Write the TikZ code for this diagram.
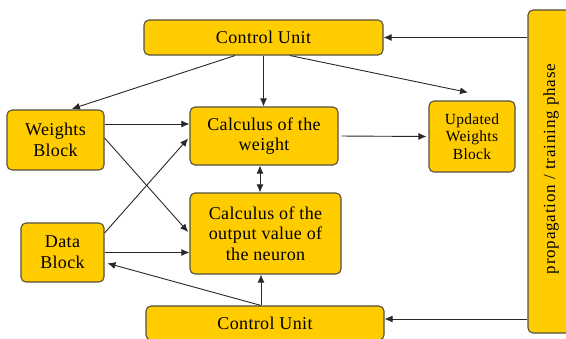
\documentclass[tikz,border=0pt]{standalone}
\usepackage{fontspec}
\setmainfont{Liberation Serif}
\usetikzlibrary{arrows.meta}
\definecolor{boxfill}{RGB}{255,204,0}
\definecolor{boxedge}{RGB}{85,80,60}
\definecolor{linec}{RGB}{40,40,40}
\tikzset{
  blk/.style={draw=boxedge, line width=1.1pt, fill=boxfill, rounded corners=5pt,
    align=center, inner sep=0pt, font=\rmfamily\fontsize{18}{20.7}\selectfont\addfontfeatures{LetterSpace=2}},
  arr/.style={draw=linec, line width=0.9pt, -{Latex[length=8pt,width=7pt]}},
  darr/.style={draw=linec, line width=0.9pt, {Latex[length=8pt,width=7pt]}-{Latex[length=8pt,width=7pt]}}
}
\begin{document}
\begin{tikzpicture}[x=1pt,y=-1pt]
\useasboundingbox (0,0) rectangle (566,338);
\clip (0,0) rectangle (566,338);
\fill[white] (0,0) rectangle (566,338);
% nodes
\node[blk, minimum width=239pt, minimum height=35pt] (topcu) at (263.5,37.5) {Control Unit};
\node[blk, minimum width=97pt, minimum height=60pt] (wb) at (55.5,140) {Weights\\Block};
\node[blk, minimum width=148pt, minimum height=58pt] (cw) at (264,136) {Calculus of the\\weight};
\node[blk, minimum width=86pt, minimum height=71pt, font=\rmfamily\fontsize{15.5}{17.5}\selectfont\addfontfeatures{LetterSpace=2}] (uwb) at (472,136.5) {Updated\\Weights\\Block};
\node[blk, minimum width=83pt, minimum height=59pt] (db) at (62.5,252.5) {Data\\Block};
\node[blk, minimum width=151pt, minimum height=81pt] (co) at (265.5,233.5) {Calculus of the\\output value of\\the neuron};
\node[blk, minimum width=238pt, minimum height=34pt] (botcu) at (265,323) {Control Unit};
\node[blk, minimum width=46pt, minimum height=323pt] (bar) at (551,171.5) {};
\node[rotate=90, font=\rmfamily\fontsize{17}{19}\selectfont\addfontfeatures{LetterSpace=5}] (bartext) at (551,169) {propagation / training phase};
% helper coordinates
\coordinate (be) at ([yshift=4pt]botcu.east);
\coordinate (a1) at ([yshift=16pt]wb.east);
\coordinate (c1) at ([xshift=-4pt]cw.south);
\coordinate (c2) at ([xshift=-4pt]botcu.north);
% connectors
\draw[arr] (bar.west |- topcu.east) -- (topcu.east);
\draw[arr] (bar.west |- be) -- (be);
\draw[arr, shorten >=2pt] ([xshift=-28.5pt]topcu.south) -- ([xshift=14.5pt]wb.north);
\draw[arr] (topcu.south) -- (topcu.south |- cw.north);
\draw[arr] ([xshift=26.5pt]topcu.south) -- ([xshift=-4pt,yshift=8pt]uwb.north);
\draw[arr] (a1) -- (a1 -| cw.west);
\draw[arr, shorten >=2pt] ([yshift=2pt]wb.east) -- (co.west);
\draw[arr, shorten >=2pt] ([yshift=19.5pt]db.east) -- ([yshift=-1pt]cw.west);
\draw[arr] (db.east) -- (db.east -| co.west);
\draw[darr] (c1) -- (c1 |- co.north);
\draw[arr] (c2) -- (c2 |- co.south);
\draw[arr, shorten >=3pt] (c2) -- ([yshift=-10pt]db.east);
\draw[arr, shorten <=3pt, shorten >=2pt] (cw.east) -- (uwb.west);
\end{tikzpicture}
\end{document}
